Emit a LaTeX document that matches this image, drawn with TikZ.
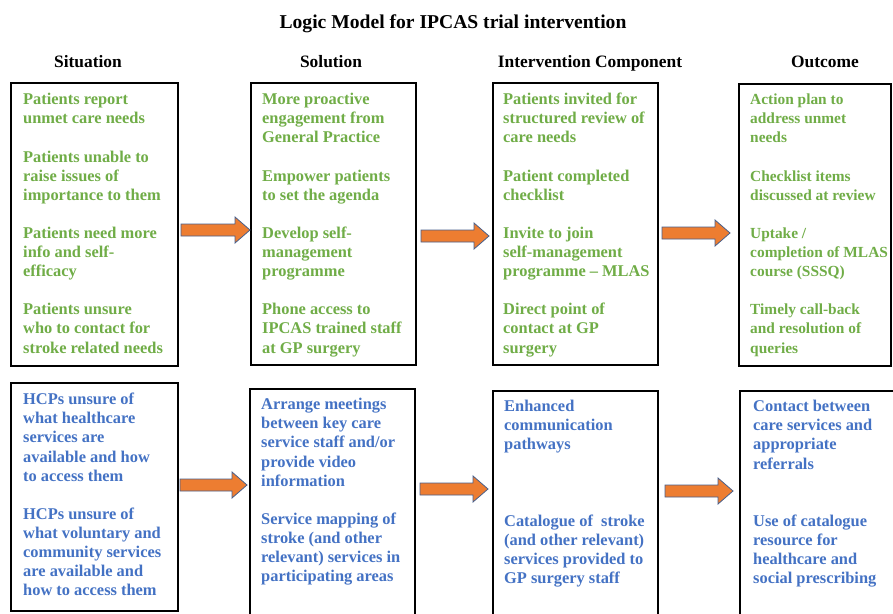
\documentclass[tikz,border=0pt]{standalone}
\usepackage{fontspec}
\setmainfont{Liberation Serif}
\definecolor{tgreen}{RGB}{112,173,71}
\definecolor{tblue}{RGB}{68,114,196}
\definecolor{aorange}{RGB}{237,125,49}
\definecolor{aedge}{RGB}{72,96,140}
\newcommand\blockarrow[3]{%
  \draw[barrow] (#1,#3-6) -- (#2-15,#3-6) -- (#2-15,#3-13) -- (#2,#3) -- (#2-15,#3+13) -- (#2-15,#3+6) -- (#1,#3+6) -- cycle;}
\begin{document}
\begin{tikzpicture}[x=1pt,y=-1pt,
  box/.style={draw=black, line width=1.8pt, anchor=north west, inner sep=0pt},
  txt/.style={anchor=north west, inner sep=0pt, align=left, font=\fontsize{16.4}{19.1}\selectfont\bfseries},
  gtxt/.style={txt, text=tgreen},
  btxt/.style={txt, text=tblue},
  head/.style={anchor=base, inner sep=0pt, font=\fontsize{17.4}{20}\selectfont\bfseries},
  barrow/.style={fill=aorange, draw=aedge, line width=0.8pt, line join=miter}]
\useasboundingbox (0,0) rectangle (893,613);
\fill[white] (0,0) rectangle (893,613);
% title and headers
\node[head, font=\fontsize{19.6}{22}\selectfont\bfseries] (title) at (453,28) {Logic Model for IPCAS trial intervention};
\node[head] (h1) at (88,67) {Situation};
\node[head] (h2) at (331,67) {Solution};
\node[head] (h3) at (590,67) {Intervention Component};
\node[head] (h4) at (825,67) {Outcome};
% boxes
\node[box, minimum width=167pt, minimum height=283pt] (b1) at (10,82) {};
\node[box, minimum width=165pt, minimum height=282pt] (b2) at (250,82) {};
\node[box, minimum width=165pt, minimum height=282pt] (b3) at (492,82) {};
\node[box, minimum width=152pt, minimum height=282pt] (b4) at (738,83) {};
\node[box, minimum width=167pt, minimum height=228pt] (b5) at (10,382) {};
\node[box, minimum width=165pt, minimum height=235pt] (b6) at (249,388) {};
\node[box, minimum width=165pt, minimum height=235pt] (b7) at (492,390) {};
\node[box, minimum width=165pt, minimum height=235pt] (b8) at (739,390) {};
% texts
\def\g{19.1pt}
\node[gtxt] (t1) at (23,91.5) {\rule{0pt}{13pt}Patients report\\unmet care needs\\[\g]Patients unable to\\raise issues of\\importance to them\\[\g]Patients need more\\info and self-\\efficacy\\[\g]Patients unsure\\who to contact for\\stroke related needs};
\node[gtxt] (t2) at (262,91.5) {\rule{0pt}{13pt}More proactive\\engagement from\\General Practice\\[\g]Empower patients\\to set the agenda\\[\g]Develop self-\\management\\programme\\[\g]Phone access to\\IPCAS trained staff\\at GP surgery};
\node[gtxt] (t3) at (503,91.5) {\rule{0pt}{13pt}Patients invited for\\structured review of\\care needs\\[\g]Patient completed\\checklist\\[\g]Invite to join\\self-management\\programme – MLAS\\[\g]Direct point of\\contact at GP\\surgery};
\node[gtxt, font=\fontsize{15.4}{19.1}\selectfont\bfseries] (t4) at (750,91.5) {\rule{0pt}{13pt}Action plan to\\address unmet\\needs\\[\g]Checklist items\\discussed at review\\[\g]Uptake /\\completion of MLAS\\course (SSSQ)\\[\g]Timely call-back\\and resolution of\\queries};
\node[btxt] (t5) at (23,391.5) {\rule{0pt}{13pt}HCPs unsure of\\what healthcare\\services are\\available and how\\to access them\\[\g]HCPs unsure of\\what voluntary and\\community services\\are available and\\how to access them};
\node[btxt] (t6) at (261,396.5) {\rule{0pt}{13pt}Arrange meetings\\between key care\\service staff and/or\\provide video\\information\\[\g]Service mapping of\\stroke (and other\\relevant) services in\\participating areas};
\node[btxt] (t7) at (504,398.5) {\rule{0pt}{13pt}Enhanced\\communication\\pathways\\[57.3pt]Catalogue of~ stroke\\(and other relevant)\\services provided to\\GP surgery staff};
\node[btxt] (t8) at (753,398.5) {\rule{0pt}{13pt}Contact between\\care services and\\appropriate\\referrals\\[38.2pt]Use of catalogue\\resource for\\healthcare and\\social prescribing};
% arrows
\blockarrow{181}{250}{230}
\blockarrow{421}{489}{236}
\blockarrow{662}{730}{233}
\blockarrow{180}{247}{485}
\blockarrow{420}{488}{489}
\blockarrow{665}{733}{491}
\end{tikzpicture}
\end{document}
